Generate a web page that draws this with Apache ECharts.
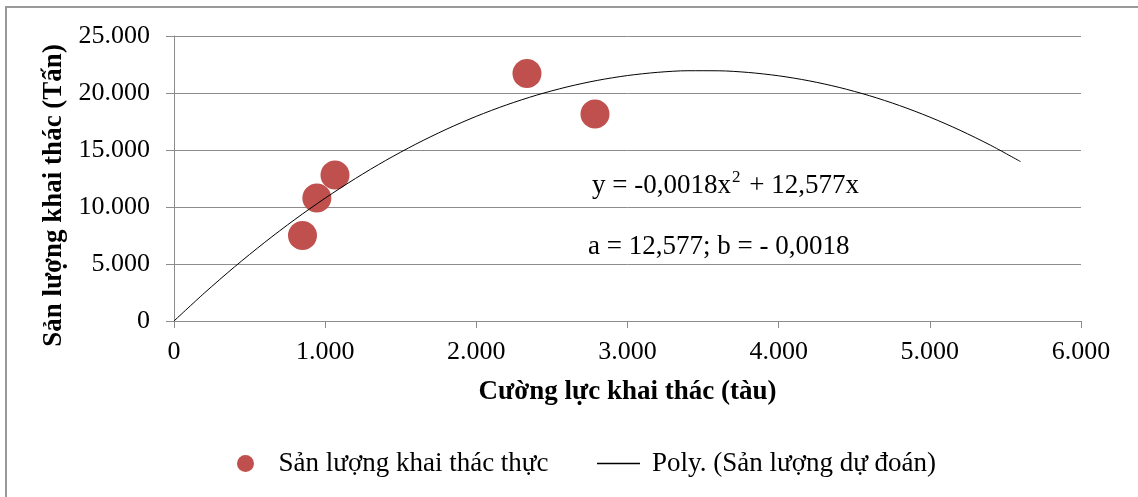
<!DOCTYPE html>
<html><head><meta charset="utf-8">
<script src="https://cdn.jsdelivr.net/npm/echarts@6/dist/echarts.min.js"></script>
<style>html,body{margin:0;padding:0;background:#fff}#c{width:1138px;height:497px}</style>
</head><body><div id="c"></div>
<script>
// Observed points: [fishing effort (boats), catch (tonnes)]
const effortActual = [850, 945, 1065, 2335, 2785];
const catchActual = [7500, 10800, 12800, 21700, 18150];
// Polynomial trend line
const trendX = [0, 200, 400, 600, 800, 1000, 1200, 1400, 1600, 1800, 2000, 2200, 2400, 2600, 2800,
                3000, 3200, 3400, 3600, 3800, 4000, 4200, 4400, 4600, 4800, 5000, 5200, 5400, 5600];
const trendY = [0, 2443, 4743, 6898, 8910, 10777, 12500, 14080, 15515, 16807, 17954, 18957, 19817, 20532, 21104,
                21531, 21814, 21954, 21949, 21801, 21508, 21071, 20491, 19766, 18898, 17885, 16728, 15428, 13983];
const xTicks = [0, 1000, 2000, 3000, 4000, 5000, 6000];
const yTicks = [0, 5000, 10000, 15000, 20000, 25000];
const seriesNames = ['Sản lượng khai thác thực', 'Poly. (Sản lượng dự đoán)'];
const xTitle = 'Cường lực khai thác (tàu)';
const yTitle = 'Sản lượng khai thác (Tấn)';

const FONT = '"Liberation Serif", "DejaVu Serif", serif';
const fmt = v => v === 0 ? '0' : String(v).replace(/\B(?=(\d{3})+(?!\d))/g, '.');

const chart = echarts.init(document.getElementById('c'), null, {renderer: 'canvas'});
chart.setOption({
  animation: false,
  backgroundColor: '#fff',
  textStyle: {fontFamily: FONT, color: '#000'},
  grid: {left: 174, right: 57, top: 36, bottom: 176, containLabel: false},
  xAxis: {
    type: 'value', min: 0, max: 6000, interval: 1000,
    name: xTitle, nameLocation: 'middle', nameGap: 58,
    nameTextStyle: {fontFamily: FONT, fontSize: 27, fontWeight: 'bold', color: '#000'},
    axisLine: {show: true, lineStyle: {color: '#8c8c8c', width: 1}},
    axisTick: {show: true, length: 7, lineStyle: {color: '#8c8c8c'}},
    axisLabel: {fontFamily: FONT, fontSize: 26, color: '#000', margin: 18,
      formatter: v => xTicks.indexOf(v) >= 0 ? fmt(v) : ''},
    splitLine: {show: false}
  },
  yAxis: {
    type: 'value', min: 0, max: 25000, interval: 5000,
    name: yTitle, nameLocation: 'middle', nameGap: 97, nameRotate: 90,
    nameTextStyle: {fontFamily: FONT, fontSize: 27, fontWeight: 'bold', color: '#000', padding: [0, 34, 0, 0]},
    axisLine: {show: true, lineStyle: {color: '#8c8c8c', width: 1}},
    axisTick: {show: true, length: 8, lineStyle: {color: '#8c8c8c'}},
    axisLabel: {fontFamily: FONT, fontSize: 26, color: '#000', margin: 24,
      formatter: v => yTicks.indexOf(v) >= 0 ? fmt(v) : ''},
    splitLine: {show: true, lineStyle: {color: '#8c8c8c', width: 1}}
  },
  legend: [
    {
      left: 232, top: 445, itemWidth: 56, itemHeight: 17,
      textStyle: {fontFamily: FONT, fontSize: 27, color: '#000'},
      data: [{name: seriesNames[0], icon: 'circle', itemStyle: {color: '#C0504D'}}]
    },
    {
      left: 592, top: 445, itemWidth: 43, itemHeight: 17,
      textStyle: {fontFamily: FONT, fontSize: 27, color: '#000', padding: [0, 0, 0, 7]},
      data: [{name: seriesNames[1], icon: 'path://M0,0 L43,0 L43,1.5 L0,1.5 Z', itemStyle: {color: '#000'}}]
    }
  ],
  graphic: [
    {type: 'rect', shape: {x: 6, y: 7, width: 1150, height: 510}, style: {fill: 'none', stroke: '#999', lineWidth: 2}, silent: true},
    {type: 'text', left: 592, top: 169, style: {
      text: '{a|y = -0,0018x}{s|2}{a| + 12,577x}',
      rich: {
        a: {fontFamily: FONT, fontSize: 27, fill: '#000', color: '#000', lineHeight: 30, verticalAlign: 'bottom'},
        s: {fontFamily: FONT, fontSize: 17, fill: '#000', color: '#000', lineHeight: 30, verticalAlign: 'top', padding: [0, 2, 0, 1]}
      }
    }},
    {type: 'text', left: 588, top: 233, style: {text: 'a = 12,577; b = - 0,0018', font: '27px ' + FONT, fill: '#000'}}
  ],
  series: [
    {
      name: seriesNames[0], type: 'scatter', symbol: 'circle', symbolSize: 29,
      itemStyle: {color: '#C0504D', opacity: 1}, z: 3,
      data: effortActual.map((x, i) => [x, catchActual[i]])
    },
    {
      name: seriesNames[1], type: 'line', smooth: 0.3, showSymbol: false, symbol: 'none',
      lineStyle: {color: '#000', width: 1}, z: 4,
      data: trendX.map((x, i) => [x, trendY[i]])
    }
  ]
});
</script></body></html>
